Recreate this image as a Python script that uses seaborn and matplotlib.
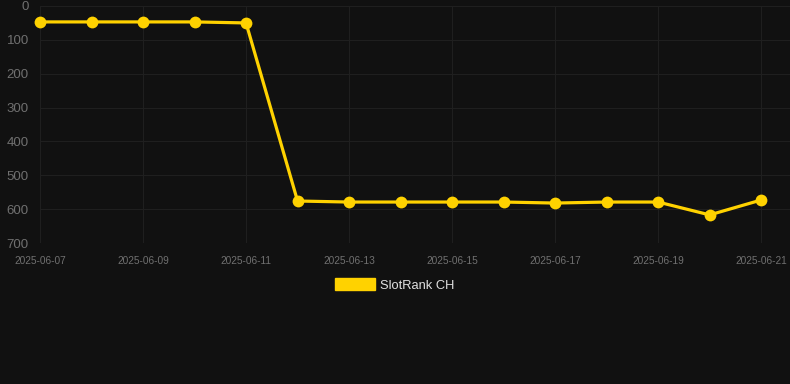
#!/usr/bin/env python3
"""SlotRank CH rank history, dark theme."""

import matplotlib

matplotlib.use("Agg")
import matplotlib.dates as mdates
import matplotlib.pyplot as plt
import pandas as pd
import seaborn as sns
from matplotlib.patches import Patch

dates = pd.date_range("2025-06-07", "2025-06-21", freq="D")
ranks = [47, 47, 47, 47, 50, 576, 579, 579, 579, 579, 582, 579, 579, 617, 573]
series_name = "SlotRank CH"
y_ticks = [0, 100, 200, 300, 400, 500, 600, 700]

BG = "#111111"
GRID = "#1f1f1f"
TICK = "#707070"
LINE = "#FFD200"

sns.set_theme(style="dark")
plt.rcParams["font.family"] = ["Liberation Sans", "DejaVu Sans"]

df = pd.DataFrame({"date": dates, "rank": ranks})

fig = plt.figure(figsize=(7.9, 3.84), dpi=100, facecolor=BG)
ax = fig.add_axes([40 / 790, (384 - 243) / 384, 750 / 790, 237 / 384])
ax.set_facecolor(BG)

sns.lineplot(
    data=df, x="date", y="rank", ax=ax, color=LINE, linewidth=2.3,
    marker="o", markersize=8.5, markeredgewidth=0, legend=False,
)
for ln in ax.lines:
    ln.set_clip_on(False)

ax.set_ylim(700, 0)
ax.set_yticks(y_ticks)
ax.set_xlim(dates[0], dates[-1] + pd.Timedelta(days=0.56))
ax.set_xticks(dates[::2])
ax.xaxis.set_major_formatter(mdates.DateFormatter("%Y-%m-%d"))

ax.grid(True, color=GRID, linewidth=0.8)
for s in ax.spines.values():
    s.set_visible(False)
ax.tick_params(axis="y", colors=TICK, labelsize=9.5, length=0, pad=8)
ax.tick_params(axis="x", colors=TICK, labelsize=7.3, length=0, pad=9)
ax.set_xlabel("")
ax.set_ylabel("")

handle = Patch(facecolor=LINE, edgecolor=LINE, label=series_name)
leg = fig.legend(
    handles=[handle], loc="center", bbox_to_anchor=(0.5, 1 - 285 / 384),
    frameon=False, fontsize=9.3, handlelength=3.05, handleheight=0.95,
    handletextpad=0.45,
)
for t in leg.get_texts():
    t.set_color("#e0e0e0")

fig.savefig("out.png", dpi=100, facecolor=BG)
